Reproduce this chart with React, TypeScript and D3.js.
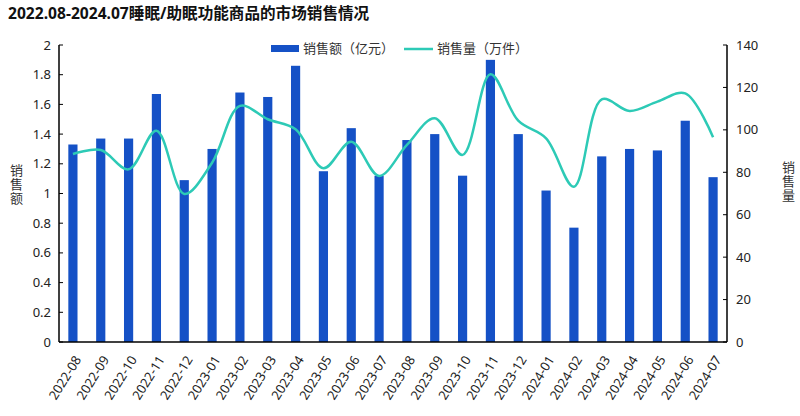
import React from "react";
import * as d3 from "d3";

const months = [
  "2022-08","2022-09","2022-10","2022-11","2022-12","2023-01","2023-02","2023-03",
  "2023-04","2023-05","2023-06","2023-07","2023-08","2023-09","2023-10","2023-11",
  "2023-12","2024-01","2024-02","2024-03","2024-04","2024-05","2024-06","2024-07",
];
const salesAmount = [
  1.33, 1.37, 1.37, 1.67, 1.09, 1.30, 1.68, 1.65,
  1.86, 1.15, 1.44, 1.12, 1.36, 1.40, 1.12, 1.90,
  1.40, 1.02, 0.77, 1.25, 1.30, 1.29, 1.49, 1.11,
];
const salesVolume = [
  88.6, 90.5, 81.4, 99.6, 69.8, 84.5, 111.3, 105,
  100.3, 81.9, 94.4, 78.3, 92.9, 105.5, 88.2, 126.2,
  104.3, 96, 73.2, 114.4, 108.9, 113.3, 117.2, 96.5,
];
const leftTicks = [0, 0.2, 0.4, 0.6, 0.8, 1, 1.2, 1.4, 1.6, 1.8, 2];
const rightTicks = [0, 20, 40, 60, 80, 100, 120, 140];
const title = "2022.08-2024.07睡眠/助眠功能商品的市场销售情况";
const legendBar = "销售额（亿元）";
const legendLine = "销售量（万件）";
const leftTitle = "销售额";
const rightTitle = "销售量";

const BAR = "#1551C6";
const LINE = "#2DCAB6";
const FONT = "'Noto Sans', 'Noto Sans CJK SC', sans-serif";

export default function App() {
  const left = 59, right = 727, top = 45, bottom = 342;
  const x = d3.scaleBand<string>().domain(months).range([left, right]).paddingInner(0.67).paddingOuter(0.335);
  const yL = d3.scaleLinear().domain([0, 2]).range([bottom, top]);
  const yR = d3.scaleLinear().domain([0, 140]).range([bottom, top]);
  const cx = (m: string) => (x(m) as number) + x.bandwidth() / 2;
  const line = d3.line<number>()
    .x((_, i) => cx(months[i]))
    .y((v) => yR(v))
    .curve(d3.curveCatmullRom.alpha(0.5));
  const fmt = (v: number) => String(v);

  return (
    <svg width={800} height={416} style={{ position: "absolute", left: 0, top: 0, background: "#fff" }} fontFamily={FONT}>
      <text x={8} y={19} fontSize={15.6} fontWeight="bold" fill="#111">{title}</text>

      {/* legend */}
      <rect x={271} y={45} width={28} height={7} fill={BAR} />
      <text x={303} y={53} fontSize={13} fill="#333">{legendBar}</text>
      <line x1={404} x2={433} y1={49} y2={49} stroke={LINE} strokeWidth={2.5} />
      <text x={437} y={53} fontSize={13} fill="#333">{legendLine}</text>

      {/* bars */}
      {months.map((m, i) => (
        <rect key={m} x={x(m)} y={yL(salesAmount[i])} width={x.bandwidth()} height={bottom - yL(salesAmount[i])} fill={BAR} />
      ))}

      {/* line */}
      <path d={line(salesVolume) || ""} fill="none" stroke={LINE} strokeWidth={2.5} />

      {/* axes */}
      <line x1={left} x2={left} y1={top} y2={bottom} stroke="#000" strokeWidth={1.5} />
      <line x1={right} x2={right} y1={top} y2={bottom} stroke="#000" strokeWidth={1.5} />
      <line x1={left} x2={right} y1={bottom} y2={bottom} stroke="#000" strokeWidth={1.5} />
      {leftTicks.map((t) => (
        <g key={"l" + t}>
          <line x1={left} x2={left + 4} y1={yL(t)} y2={yL(t)} stroke="#000" strokeWidth={1} />
          <text x={51} y={yL(t)} dy="0.35em" textAnchor="end" fontSize={13} fill="#222">{fmt(t)}</text>
        </g>
      ))}
      {rightTicks.map((t) => (
        <g key={"r" + t}>
          <line x1={right - 4} x2={right} y1={yR(t)} y2={yR(t)} stroke="#000" strokeWidth={1} />
          <text x={736} y={yR(t)} dy="0.35em" textAnchor="start" fontSize={13} fill="#222">{fmt(t)}</text>
        </g>
      ))}
      <text transform="translate(10,175) rotate(90)" rotate="-90" letterSpacing={1} fontSize={13} fill="#333">{leftTitle}</text>
      <text transform="translate(782,172) rotate(90)" rotate="-90" letterSpacing={1} fontSize={13} fill="#333">{rightTitle}</text>
      {months.map((m) => (
        <text key={"x" + m} transform={`translate(${cx(m) + 5},${357}) rotate(-58)`} textAnchor="end" dy="0.35em" fontSize={13} fill="#222">{m}</text>
      ))}
    </svg>
  );
}
